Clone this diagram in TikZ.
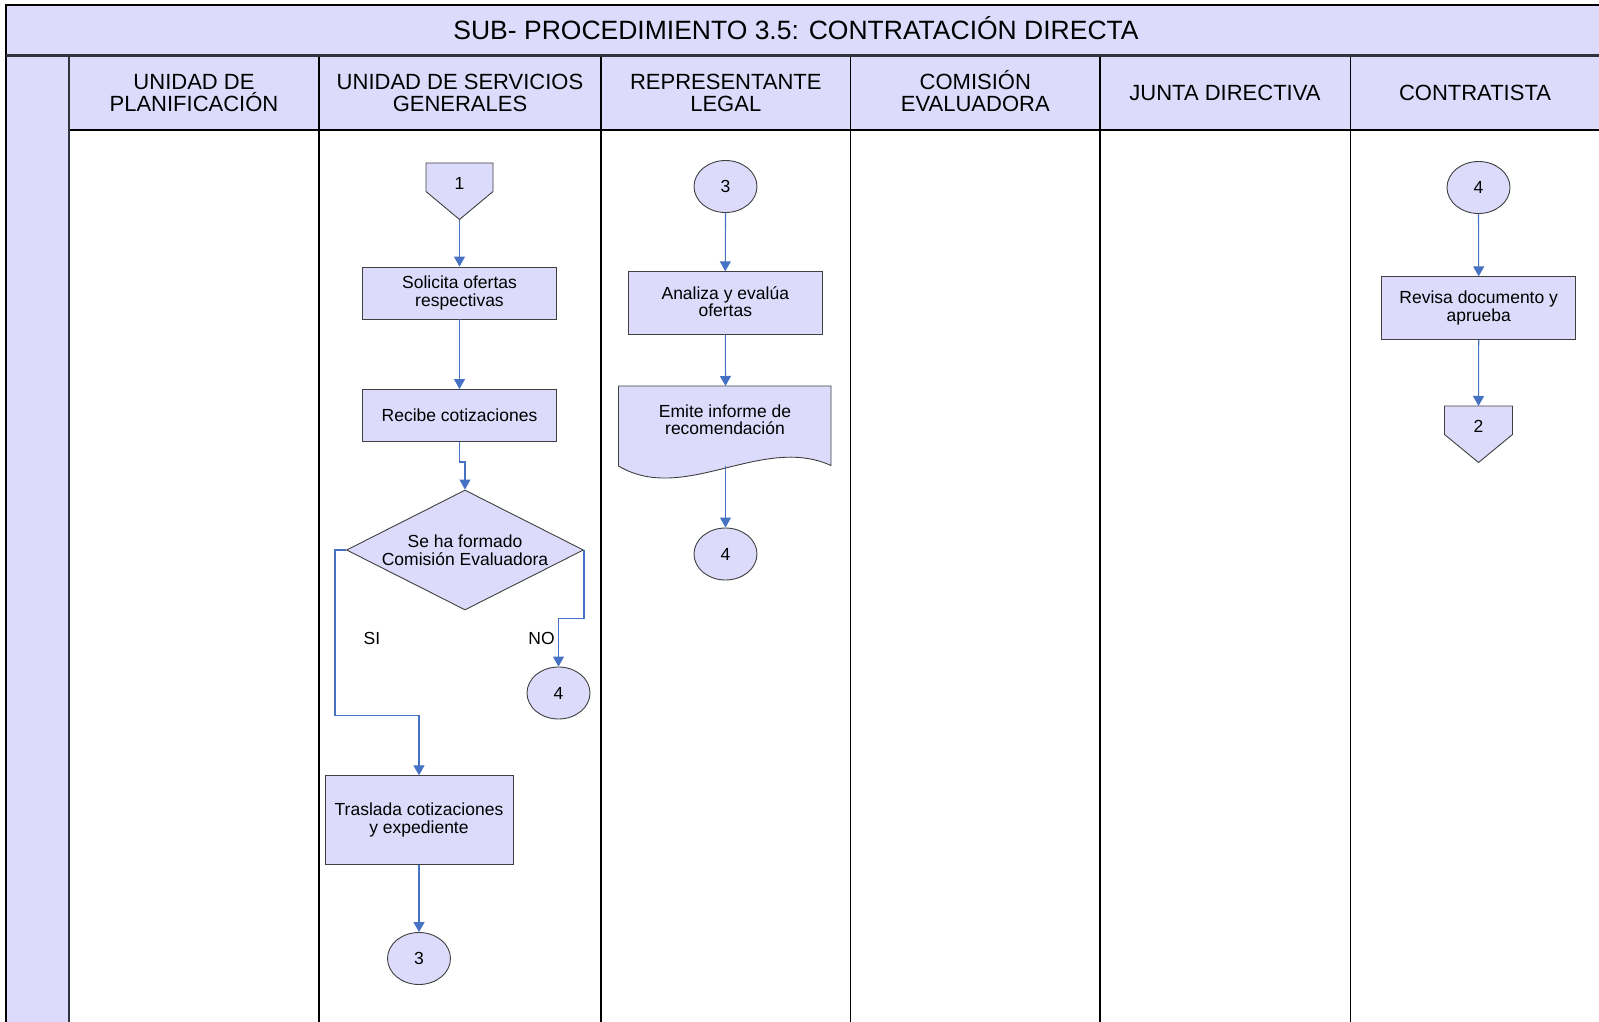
\documentclass[tikz,border=0pt]{standalone}
\usepackage{fontspec}
\setmainfont{Liberation Sans}
\usepackage{tikz}
\usetikzlibrary{calc}
\usetikzlibrary{shapes.geometric}
\usetikzlibrary{arrows.meta}
\definecolor{lila}{RGB}{221,219,251}
\definecolor{azul}{RGB}{70,114,196}
\definecolor{borde}{RGB}{64,64,64}
\definecolor{oscuro}{RGB}{50,50,62}
\newcommand{\nodo}{\fontsize{17.5}{17.5}\selectfont}
\newcommand{\cab}{\fontsize{22}{22.5}\selectfont}
\newcommand{\titulo}{\fontsize{26.5}{28}\selectfont}

\begin{document}
\begin{tikzpicture}[x=1pt,y=-1pt,
forma/.style={draw=borde,fill=lila,line width=0.9pt},
caja/.style={forma,rectangle,inner sep=0,font=\nodo,align=center,minimum width=194,minimum height=52},
circ/.style={forma,ellipse,inner sep=0,font=\nodo,minimum width=63,minimum height=52},
rombo/.style={forma,diamond,aspect=2,inner sep=0,font=\nodo,align=center,minimum width=237,minimum height=120},
txt/.style={inner sep=0,font=\nodo,align=center},
cabeza/.style={inner sep=0,font=\cab,align=center},
flecha/.style={draw=azul,line width=1.1pt,-{Triangle[length=10pt,width=11pt]}},
carril/.style={line width=1.3pt}]
\useasboundingbox (0,0) rectangle (1599,1022);
% bandas y carriles
\fill[lila] (6,5) rectangle (1610,56);
\fill[lila] (6,56) rectangle (69,1030);
\fill[lila] (69,56) rectangle (1610,130);
\draw[carril] (6,1030) -- (6,5) -- (1610,5);
\draw[carril] (69,130) -- (1610,130);
\draw[carril] (319,56) -- (319,1030);
\draw[carril] (601,56) -- (601,1030);
\draw[carril] (850.5,56) -- (850.5,1030);
\draw[carril] (1100,56) -- (1100,1030);
\draw[carril] (1350.5,56) -- (1350.5,1030);
\draw[draw=oscuro,line width=3pt] (6,56) -- (1610,56);
\draw[draw=oscuro,line width=2.5pt] (69,56) -- (69,1030);
\node[font=\titulo,inner sep=0] (TT) at (796,28.5) {SUB- PROCEDIMIENTO 3.5: CONTRATACIÓN DIRECTA};
\node[cabeza] (H1) at (194,93) {UNIDAD DE\\PLANIFICACIÓN};
\node[cabeza] (H2) at (460,93) {UNIDAD DE SERVICIOS\\GENERALES};
\node[cabeza] (H3) at (725.8,93) {REPRESENTANTE\\LEGAL};
\node[cabeza] (H4) at (975.3,91) {COMISIÓN\\EVALUADORA};
\node[cabeza] (H5) at (1225,93) {JUNTA DIRECTIVA};
\node[cabeza] (H6) at (1475,93) {CONTRATISTA};
% unidad de servicios generales
\coordinate (P1) at (459.5,163);
\filldraw[forma] ($(P1)+(-33.5,0)$) -- ++(67,0) -- ++(0,28.5) -- ++(-33.5,28) -- ++(-33.5,-28) -- cycle;
\node[txt] (U1) at ($(P1)+(0,20.5)$) {1};
\coordinate (U1p) at ($(P1)+(0,56.5)$);
\node[caja] (S1) at (459.5,293) {Solicita ofertas\\respectivas};
\node[caja] (R1) at (459.5,415.5) {Recibe cotizaciones};
\node[rombo] (D1) at (465,550) {Se ha formado\\Comisión Evaluadora};
\node[txt] (SI) at (372,638) {SI};
\node[txt] (NO) at (541.5,638) {NO};
\node[circ] (N4) at (558.5,693) {4};
\node[caja,minimum width=188,minimum height=88.5] (T1) at (419,820) {Traslada cotizaciones\\y expediente};
\node[circ] (C3) at (419,958.5) {3};
\coordinate (SIa) at (335,715.5);
\coordinate (NOa) at (558.5,618.5);
\draw[flecha] (U1p) -- (S1.north);
\draw[flecha] (S1.south) -- (R1.north);
\draw[flecha] (R1.south) -- ++(0,20) -| (D1.north);
\draw[flecha] (D1.west) -| (SIa) -| (T1.north);
\draw[flecha] (D1.east) |- (NOa) -- (N4.north);
\draw[flecha] (T1.south) -- (C3.north);
% representante legal
\node[circ] (C3b) at (725.5,186.5) {3};
\node[caja,minimum height=62.5] (A1) at (725.3,303) {};
\node[txt] (A1t) at (725.3,301.5) {Analiza y evalúa\\ofertas};
\filldraw[forma] (618.5,386) -- (831,386) -- (831,465.5) .. controls (762,434) and (684,505) .. (618.5,466) -- cycle;
\node[txt] (E1) at (725,419.5) {Emite informe de\\recomendación};
\coordinate (E1t) at (725.5,386);
\coordinate (E1b) at (725.5,465.5);
\node[circ] (C4) at (725.5,554) {4};
\draw[flecha] (C3b.south) -- (A1.north);
\draw[flecha] (A1.south) -- (E1t);
\draw[flecha] (E1b) -- (C4.north);
% contratista
\node[circ] (C4b) at (1478.5,187.5) {4};
\node[caja,minimum height=62.5] (V1) at (1478.7,308) {Revisa documento y\\aprueba};
\coordinate (P2) at (1478.5,406);
\filldraw[forma] ($(P2)+(-34,0)$) -- ++(68,0) -- ++(0,28.5) -- ++(-34,28) -- ++(-34,-28) -- cycle;
\node[txt] (U2) at ($(P2)+(0,20.5)$) {2};
\draw[flecha] (C4b.south) -- (V1.north);
\draw[flecha] (V1.south) -- (P2);
\end{tikzpicture}
\end{document}
